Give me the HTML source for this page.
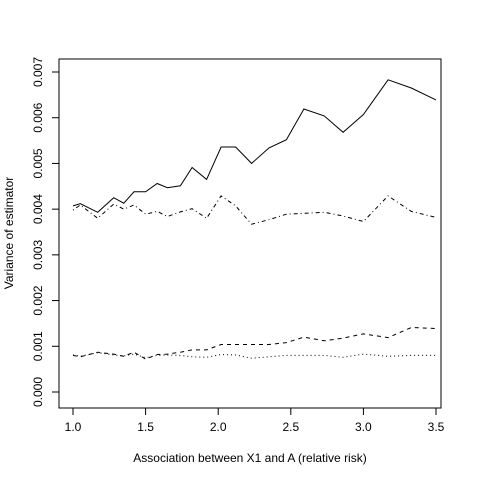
<!DOCTYPE html>
<html><head><meta charset="utf-8"><style>
html,body{margin:0;padding:0;background:#fff}
svg text{font-family:"Liberation Sans",Arial,sans-serif;font-size:12px;fill:#000}
</style></head><body>
<svg id="chart" width="480" height="480">
<rect x="0" y="0" width="480" height="480" fill="#fff"/>
<rect x="59" y="59" width="382" height="349" fill="none" stroke="#000" stroke-width="1"/>
<g id="xaxis"></g>
<g id="yaxis"></g>
<g id="series"></g>
<text x="250" y="462" text-anchor="middle">Association between X1 and A (relative risk)</text>
<text transform="translate(13,233) rotate(-90)" text-anchor="middle">Variance of estimator</text>
</svg>
<script>
const xs=[1.0,1.05,1.17,1.28,1.35,1.42,1.50,1.58,1.65,1.74,1.82,1.92,2.02,2.12,2.23,2.35,2.47,2.59,2.73,2.86,3.0,3.17,3.33,3.5];
const solid=[0.00407,0.00412,0.00393,0.00425,0.00413,0.00438,0.00438,0.00456,0.00447,0.00451,0.00491,0.00465,0.00536,0.00536,0.00500,0.00534,0.00552,0.00619,0.00604,0.00568,0.00607,0.00683,0.00665,0.00639];
const dashdot=[0.00398,0.00409,0.00380,0.00411,0.00400,0.00409,0.00389,0.00395,0.00384,0.00394,0.00401,0.00380,0.00429,0.00407,0.00367,0.00377,0.00389,0.00391,0.00393,0.00385,0.00373,0.00429,0.00395,0.00382];
const dashed=[0.00080,0.00077,0.00087,0.00083,0.00078,0.00087,0.00072,0.00082,0.00083,0.00087,0.00092,0.00092,0.00104,0.00104,0.00104,0.00104,0.00108,0.00120,0.00112,0.00118,0.00127,0.00119,0.00141,0.00139];
const dotted=[0.00081,0.00078,0.00086,0.00081,0.00079,0.00083,0.00075,0.00080,0.00081,0.00080,0.00077,0.00076,0.00082,0.00081,0.00074,0.00077,0.00080,0.00080,0.00080,0.00076,0.00083,0.00078,0.00080,0.00080];
const xTicks=[1.0,1.5,2.0,2.5,3.0,3.5];
const xTickLabels=["1.0","1.5","2.0","2.5","3.0","3.5"];
const yTicks=[0,0.001,0.002,0.003,0.004,0.005,0.006,0.007];
const yTickLabels=["0.000","0.001","0.002","0.003","0.004","0.005","0.006","0.007"];
const NS="http://www.w3.org/2000/svg";
function sx(v){return 73+(v-1)*145.2;}
function sy(v){return 392-v*45714;}
function mk(tag,attrs,parent){const e=document.createElementNS(NS,tag);for(const k in attrs)e.setAttribute(k,attrs[k]);parent.appendChild(e);return e;}
const xa=document.getElementById('xaxis'),ya=document.getElementById('yaxis'),sg=document.getElementById('series');
xTicks.forEach((t,i)=>{
 const l=mk('line',{x1:sx(t),x2:sx(t),y1:408,y2:415,stroke:'#000'},xa);
 
 
 const tx=mk('text',{x:sx(t),y:431,'text-anchor':'middle'},xa);tx.textContent=xTickLabels[i];
 
 
});
yTicks.forEach((t,i)=>{
 const l=mk('line',{x1:52,x2:59,y1:sy(t),y2:sy(t),stroke:'#000'},ya);
 
 
 const tx=mk('text',{transform:`translate(42,${sy(t)}) rotate(-90)`,'text-anchor':'middle'},ya);tx.textContent=yTickLabels[i];
 
 
});
function line(vals,dash,name){
 const pts=vals.map((v,i)=>sx(xs[i]).toFixed(1)+','+sy(v).toFixed(1)).join(' ');
 const p=mk('polyline',{points:pts,fill:'none',stroke:'#000','stroke-width':1},sg);
 if(dash)p.setAttribute('stroke-dasharray',dash);
 
 
}
line(solid,null,'series-solid');
line(dashdot,'1,3,4,3','series-dashdot');
line(dashed,'4,4','series-dashed');
line(dotted,'1,3','series-dotted');
</script>
</body></html>
